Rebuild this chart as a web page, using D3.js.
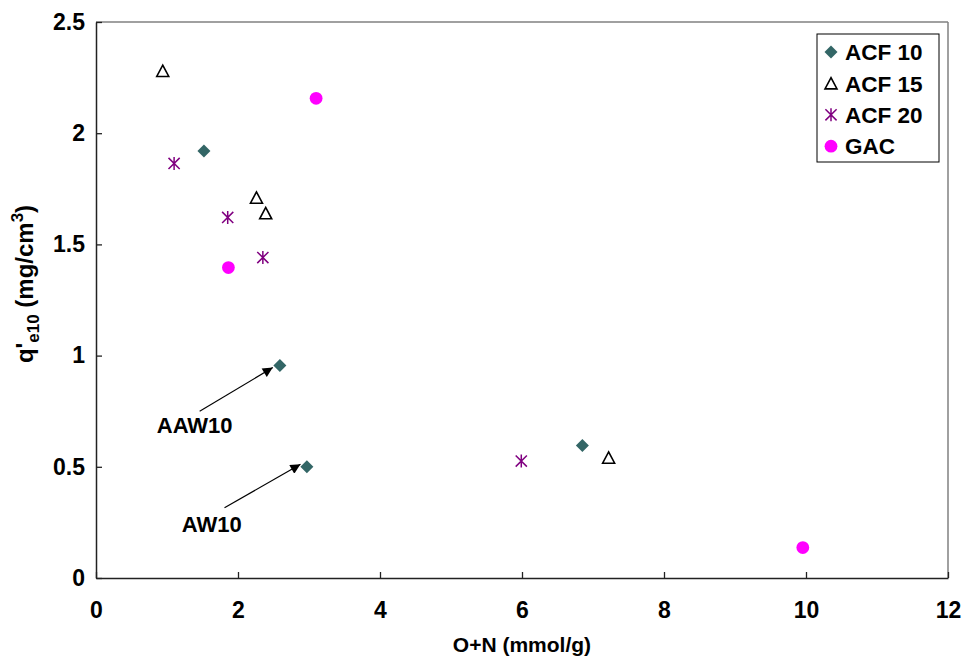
<!DOCTYPE html>
<html>
<head>
<meta charset="utf-8">
<script src="https://cdn.jsdelivr.net/npm/d3@7"></script>
<style>
  body { margin: 0; background: #fff; }
  svg text { font-family: Arial, "Liberation Sans", sans-serif; font-weight: bold; }
</style>
</head>
<body>
<div id="chart"></div>
<script>
// series values
var acf10X = [1.52, 2.59, 2.97, 6.85];
var acf10Y = [1.92, 0.956, 0.50, 0.596];
var acf15X = [0.94, 2.26, 2.39, 7.22];
var acf15Y = [2.28, 1.71, 1.64, 0.541];
var acf20X = [1.10, 1.855, 2.35, 5.99];
var acf20Y = [1.864, 1.621, 1.441, 0.526];
var gacX = [3.10, 1.865, 9.955];
var gacY = [2.157, 1.396, 0.137];

var seriesNames = ["ACF 10", "ACF 15", "ACF 20", "GAC"];
var xTicks = [0, 2, 4, 6, 8, 10, 12];
var yTicks = [0, 0.5, 1, 1.5, 2, 2.5];

// arrow annotations: label, tip, tail, label position (data units)
var noteLabels = ["AAW10", "AW10"];
var noteTip = [[2.49, 0.946], [2.88, 0.511]];
var noteTail = [[1.46, 0.75], [1.81, 0.316]];
var noteText = [[1.39, 0.65], [1.63, 0.205]];

var W = 965, H = 658;
var margin = {top: 22, right: 17, bottom: 80, left: 96};
var width = W - margin.left - margin.right,
    height = H - margin.top - margin.bottom;

var x = d3.scaleLinear().domain([0, 12]).range([0, width]);
var y = d3.scaleLinear().domain([0, 2.5]).range([height, 0]);

var svg = d3.select("#chart").append("svg")
    .attr("width", W)
    .attr("height", H);

svg.append("defs").append("marker")
    .attr("id", "arrow")
    .attr("viewBox", "0 0 10 10")
    .attr("refX", 10).attr("refY", 5)
    .attr("markerWidth", 12).attr("markerHeight", 10)
    .attr("markerUnits", "userSpaceOnUse")
    .attr("orient", "auto")
  .append("path")
    .attr("d", "M0,0L10,5L0,10Z")
    .attr("fill", "#000");

var g = svg.append("g")
    .attr("transform", "translate(" + margin.left + "," + margin.top + ")");

// frame, top and right in grey
g.append("line").attr("x1", 0).attr("x2", width).attr("y1", 0).attr("y2", 0)
    .attr("stroke", "#808080").attr("stroke-width", 1.5);
g.append("line").attr("x1", width).attr("x2", width).attr("y1", 0).attr("y2", height)
    .attr("stroke", "#808080").attr("stroke-width", 1.5);

var xAxis = d3.axisBottom(x).tickValues(xTicks).tickSizeInner(-6).tickSizeOuter(0).tickPadding(24)
    .tickFormat(d3.format("d"));
var yAxis = d3.axisLeft(y).tickValues(yTicks).tickSizeInner(-6).tickSizeOuter(0).tickPadding(11)
    .tickFormat(function(d) { return String(d); });

var gx = g.append("g")
    .attr("transform", "translate(0," + height + ")")
    .call(xAxis);
var gy = g.append("g").call(yAxis);

[gx, gy].forEach(function(a) {
  a.select(".domain").attr("stroke", "#222").attr("stroke-width", 1.5);
  a.selectAll(".tick line").attr("stroke", "#222").attr("stroke-width", 1.3);
  a.selectAll(".tick text").style("font-size", "23px").attr("fill", "#000")
      .style("font-family", "Arial, 'Liberation Sans', sans-serif").style("font-weight", "bold");
});
gx.selectAll(".tick text").attr("dy", "0.71em");

// axis titles
g.append("text")
    .attr("x", width / 2)
    .attr("y", height + 74)
    .attr("text-anchor", "middle")
    .style("font-size", "21px")
    .text("O+N (mmol/g)");

var yl = g.append("text")
    .attr("text-anchor", "middle")
    .attr("transform", "translate(" + (-63) + "," + (height / 2 - 16) + ")rotate(-90)")
    .style("font-size", "24px");
yl.append("tspan").text("q'");
yl.append("tspan").attr("dy", 6).style("font-size", "17px").text("e10");
yl.append("tspan").attr("dy", -6).text(" (mg/cm");
yl.append("tspan").attr("dy", -10).style("font-size", "17px").text("3");
yl.append("tspan").attr("dy", 10).text(")");

// marker shapes
function drawMarker(sel, kind) {
  if (kind === 0) {
    sel.append("path").attr("d", "M0,-6.5L6.5,0L0,6.5L-6.5,0Z").attr("fill", "#336666");
  } else if (kind === 1) {
    sel.append("path").attr("d", "M0,-5.8L6,5.5L-6,5.5Z")
        .attr("fill", "#fff").attr("stroke", "#000").attr("stroke-width", 1.6);
  } else if (kind === 2) {
    sel.append("path").attr("d", "M0,-6.5V6.5M-5.6,-5.6L5.6,5.6M-5.6,5.6L5.6,-5.6")
        .attr("fill", "none").attr("stroke", "#800080").attr("stroke-width", 1.5);
  } else {
    sel.append("circle").attr("r", 6.4).attr("fill", "#ff00ff");
  }
}

var seriesX = [acf10X, acf15X, acf20X, gacX];
var seriesY = [acf10Y, acf15Y, acf20Y, gacY];

seriesX.forEach(function(xs, k) {
  var pts = xs.map(function(v, i) { return {x: v, y: seriesY[k][i]}; });
  g.selectAll(".pt" + k)
      .data(pts)
    .enter().append("g")
      .attr("class", "pt" + k)
      .attr("transform", function(d) { return "translate(" + x(d.x) + "," + y(d.y) + ")"; })
      .each(function() { drawMarker(d3.select(this), k); });
});

// annotations
noteLabels.forEach(function(lab, i) {
  g.append("line")
      .attr("x1", x(noteTail[i][0])).attr("y1", y(noteTail[i][1]))
      .attr("x2", x(noteTip[i][0])).attr("y2", y(noteTip[i][1]))
      .attr("stroke", "#000").attr("stroke-width", 1.2)
      .attr("marker-end", "url(#arrow)");
  g.append("text")
      .attr("x", x(noteText[i][0])).attr("y", y(noteText[i][1]))
      .attr("text-anchor", "middle")
      .style("font-size", "22px")
      .text(lab);
});

// legend
var lg = svg.append("g").attr("transform", "translate(817,34)");
lg.append("rect").attr("width", 122).attr("height", 128)
    .attr("fill", "#fff").attr("stroke", "#000").attr("stroke-width", 1);
seriesNames.forEach(function(name, k) {
  var row = lg.append("g").attr("transform", "translate(0," + (18 + k * 31.4) + ")");
  drawMarker(row.append("g").attr("transform", "translate(14,0)"), k);
  row.append("text").attr("x", 28).attr("y", 0).attr("dy", "0.36em")
      .style("font-size", "22.5px").text(name);
});
</script>
</body>
</html>
